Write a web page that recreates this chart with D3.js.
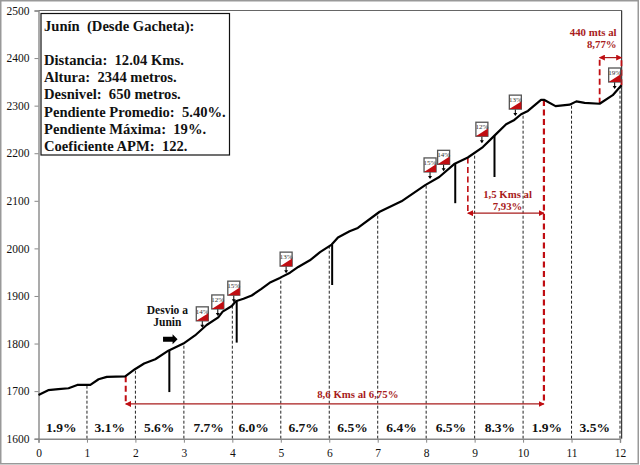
<!DOCTYPE html>
<html><head><meta charset="utf-8">
<script src="https://cdn.jsdelivr.net/npm/d3@7/dist/d3.min.js"></script>
<style>
html,body{margin:0;padding:0;background:#fff}
svg{display:block}
text{font-family:"Liberation Serif","Times New Roman",serif}
</style></head><body>
<svg id="c" width="640" height="465"></svg>
<script>
const profileKm=[0,.2,.41,.62,.8,1.07,1.24,1.41,1.79,1.99,2.18,2.41,2.68,2.99,3.23,3.47,3.71,3.8,3.99,4.07,4.23,4.4,4.6,4.79,4.98,5.19,5.36,5.6,5.81,6.05,6.18,6.42,6.59,7.04,7.49,7.98,8.27,8.59,8.86,9.17,9.41,9.65,9.82,9.96,10.1,10.37,10.44,10.67,10.96,11.1,11.27,11.58,11.85,12.03];
const profileElev=[1692,1702,1704,1706,1713,1713,1725,1730,1731,1746,1758,1767,1785,1800,1817,1839,1855,1867,1879,1889,1894,1901,1915,1929,1938,1949,1961,1975,1992,2008,2023,2036,2043,2077,2099,2133,2150,2178,2191,2213,2237,2261,2270,2282,2289,2312,2312,2299,2302,2309,2306,2304,2322,2343];
const xTicks=[0,1,2,3,4,5,6,7,8,9,10,11,12];
const yTicks=[1600,1700,1800,1900,2000,2100,2200,2300,2400,2500];
const gradeLabels=["1.9%","3.1%","5.6%","7.7%","6.0%","6.7%","6.5%","6.4%","6.5%","8.3%","1.9%","3.5%"];
const gradeKm=[.47,1.47,2.49,3.51,4.44,5.47,6.48,7.49,8.51,9.52,10.49,11.48];
const infoLines=["Junín  (Desde Gacheta):","","Distancia:  12.04 Kms.","Altura:  2344 metros.","Desnivel:  650 metros.","Pendiente Promedio:  5.40%.","Pendiente Máxima:  19%.","Coeficiente APM:  122."];
const flagKm=[3.38,3.70,4.03,5.11,8.08,8.36,9.15,9.84,11.89];
const flagElev=[1833,1858,1887,1948,2146,2162,2221,2278,2335];
const flagPct=["14%","12%","15%","13%","15%","14%","12%","13%","19%"];
const stemKm=[2.7,4.09,6.06,8.6,9.41];
const stemTop=[1785,1889,2008,2178,2237];
const stemBottom=[1698,1802,1923,2095,2150];

const W=640,H=465;
const x=d3.scaleLinear().domain([0,12]).range([38.5,620]);
const y=d3.scaleLinear().domain([1600,2500]).range([438.7,10.5]);
const svg=d3.select("#c");
const red="#c00d12",darkRed="#a81c1c";
const elevAt=k=>{const i=d3.bisectLeft(profileKm,k);if(i<=0)return profileElev[0];if(i>=profileKm.length)return profileElev[profileElev.length-1];const t=(k-profileKm[i-1])/(profileKm[i]-profileKm[i-1]);return profileElev[i-1]+t*(profileElev[i]-profileElev[i-1]);};

// outer frame
svg.append("rect").attr("x",.75).attr("y",.75).attr("width",637.5).attr("height",463).attr("fill","none").attr("stroke","#999").attr("stroke-width",1.5);

// plot border
svg.append("line").attr("x1",x(0)).attr("x2",621.7).attr("y1",10.5).attr("y2",10.5).attr("stroke","#666").attr("stroke-width",1.2);
svg.append("line").attr("x1",621.7).attr("x2",621.7).attr("y1",10.5).attr("y2",y(1600)).attr("stroke","#111").attr("stroke-width",1);

// dotted km lines
svg.append("g").selectAll("line").data(xTicks.slice(1)).join("line")
 .attr("x1",d=>x(d)).attr("x2",d=>x(d)).attr("y1",y(1600)).attr("y2",d=>y(elevAt(d)))
 .attr("stroke","#222").attr("stroke-width",1).attr("stroke-dasharray","3,2");

// axes
const ax=svg.append("g").attr("transform",`translate(0,${y(1600)})`).call(d3.axisBottom(x).tickValues(xTicks).tickSize(4).tickPadding(6).tickFormat(d3.format("d")));
const ay=svg.append("g").attr("transform",`translate(${x(0)},0)`).call(d3.axisLeft(y).tickValues(yTicks).tickSize(4).tickPadding(5).tickFormat(d3.format("d")));
[ax,ay].forEach(a=>{a.selectAll("path").attr("stroke","#888").attr("stroke-width",1.4);a.selectAll("line").attr("stroke","#888");a.selectAll("text").attr("fill","#111").style("font-size","11.5px").style("font-family",'"Liberation Serif",serif');});

// thick stems
svg.append("g").selectAll("line").data(stemKm).join("line")
 .attr("x1",d=>x(d)).attr("x2",d=>x(d)).attr("y1",(d,i)=>y(stemTop[i])).attr("y2",(d,i)=>y(stemBottom[i]))
 .attr("stroke","#000").attr("stroke-width",2);

// red dashed guides
const guideKm=[1.8,10.43,8.86,11.58,12.03];
const guideTop=[1731,2312,2191,2304,2343];
const guideBottom=[1673,1673,2074,2401,2401];
const guideW=[2,2.2,1.6,1.8,1.8];
svg.append("g").selectAll("line").data(guideKm).join("line")
 .attr("x1",d=>x(d)).attr("x2",d=>x(d)).attr("y1",(d,i)=>y(guideTop[i])).attr("y2",(d,i)=>y(guideBottom[i]))
 .attr("stroke",red).attr("stroke-width",(d,i)=>guideW[i]).attr("stroke-dasharray","6,3.5");

// red arrows
const defs=svg.append("defs");
defs.append("marker").attr("id","ah").attr("viewBox","0 0 8 8").attr("refX",7).attr("refY",4).attr("markerWidth",6).attr("markerHeight",6).attr("markerUnits","userSpaceOnUse").attr("orient","auto-start-reverse")
 .append("path").attr("d","M0,0L8,4L0,8Z").attr("fill",red);
const spanFrom=[1.8,8.86,11.58],spanTo=[10.43,10.43,12.03],spanElev=[1673,2074,2401];
svg.append("g").selectAll("line").data(spanFrom).join("line")
 .attr("x1",d=>x(d)).attr("x2",(d,i)=>x(spanTo[i])).attr("y1",(d,i)=>y(spanElev[i])).attr("y2",(d,i)=>y(spanElev[i]))
 .attr("stroke",darkRed).attr("stroke-width",1.2).attr("marker-start","url(#ah)").attr("marker-end","url(#ah)");

// profile
svg.append("path").attr("d",d3.line().x(d=>x(d[0])).y(d=>y(d[1]))(profileKm.map((k,i)=>[k,profileElev[i]])))
 .attr("fill","none").attr("stroke","#000").attr("stroke-width",2.2).attr("stroke-linejoin","round");

// flags
const fw=12,fh=14,stem=7;
const fg=svg.append("g").selectAll("g").data(flagKm).join("g").attr("transform",(d,i)=>`translate(${x(d)},${y(flagElev[i])})`);
fg.append("line").attr("x1",0).attr("x2",0).attr("y1",-stem).attr("y2",-1).attr("stroke","#000").attr("stroke-width",1);
fg.append("path").attr("d","M-2,-3L0,0L2,-3Z").attr("fill","#000");
fg.append("rect").attr("x",-fw/2).attr("y",-stem-fh).attr("width",fw).attr("height",fh).attr("fill","#fff").attr("stroke","#555").attr("stroke-width",1.3);
fg.append("path").attr("d",`M${-fw/2},${-stem}L${fw/2},${-stem-fh*.55}L${fw/2},${-stem}Z`).attr("fill",red);
fg.append("text").attr("x",0).attr("y",-stem-fh+7).attr("text-anchor","middle").style("font-size","7px").attr("fill","#333").text((d,i)=>flagPct[i]);

// grade labels
svg.append("g").selectAll("text").data(gradeLabels).join("text")
 .attr("x",(d,i)=>x(gradeKm[i])).attr("y",y(1600)-7).attr("text-anchor","middle")
 .style("font-size","13.5px").style("font-weight","bold").attr("fill","#111").text(d=>d);

// info box
svg.append("rect").attr("x",41).attr("y",13.5).attr("width",188.5).attr("height",141.5).attr("fill","#fff").attr("stroke","#111").attr("stroke-width",1.2);
svg.append("g").selectAll("text").data(infoLines).join("text")
 .attr("x",44).attr("y",(d,i)=>30.5+i*17.2).style("white-space","pre")
 .style("font-size","14.6px").style("font-weight","bold").attr("fill","#111").text(d=>d);

// annotations
const notes=[["8,6 Kms al 6,75%",6.59,1685,"middle"],["1,5 Kms al",9.68,2105,"middle"],["7,93%",9.68,2080,"middle"],["440 mts al",11.93,2446,"end"],["8,77%",11.93,2422,"end"]];
svg.append("g").selectAll("text").data(notes).join("text")
 .attr("x",d=>x(d[1])).attr("y",d=>y(d[2])).attr("text-anchor",d=>d[3])
 .style("font-size","10.8px").style("font-weight","bold").attr("fill",darkRed).text(d=>d[0]);

const desvio=["Desvio a","Junin"];
svg.append("g").selectAll("text").data(desvio).join("text")
 .attr("x",x(2.66)).attr("y",(d,i)=>y(1862)+i*12.3).attr("text-anchor","middle")
 .style("font-size","11.5px").style("font-weight","bold").attr("fill","#111").text(d=>d);
const ax0=x(2.57),ax1=x(2.87),ay0=y(1809);
svg.append("path").attr("d",`M${ax0},${ay0-2.5}H${ax1-5}V${ay0-5}L${ax1},${ay0}L${ax1-5},${ay0+5}V${ay0+2.5}H${ax0}Z`).attr("fill","#000");
</script>
</body></html>
